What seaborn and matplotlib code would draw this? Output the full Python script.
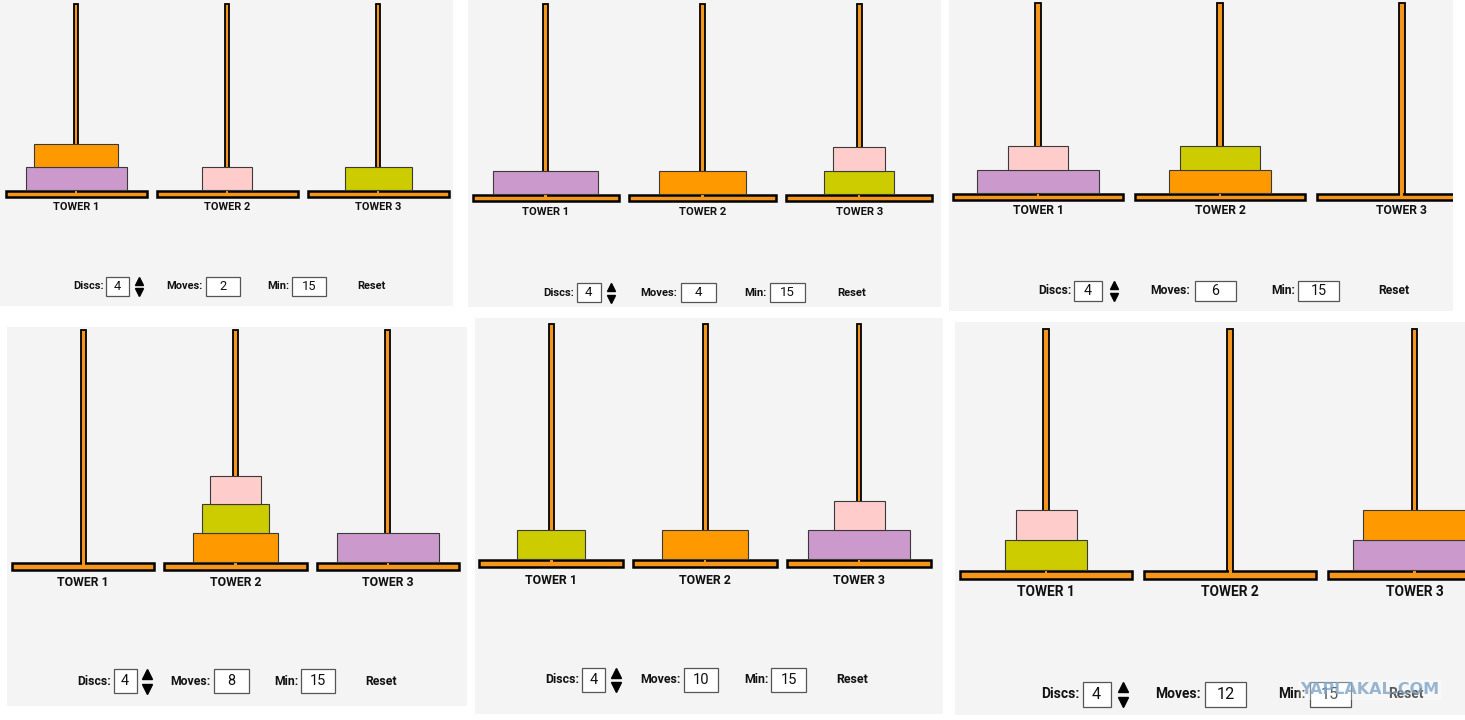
import matplotlib
matplotlib.use("Agg")
import matplotlib.pyplot as plt
from matplotlib import font_manager
import seaborn as sns

moves = [2, 4, 6, 8, 10, 12]
disc_count = 4
min_moves = 15
tower_labels = ["TOWER 1", "TOWER 2", "TOWER 3"]

disc_width = {"pink": 50, "green": 67, "orange": 84, "violet": 101}
disc_color = {"pink": "#ffcccc", "green": "#cccc00", "orange": "#ff9900", "violet": "#cc99cc"}

# discs on each tower, bottom to top
state_2 = [["violet", "orange"], ["pink"], ["green"]]
state_4 = [["violet"], ["orange"], ["green", "pink"]]
state_6 = [["violet", "pink"], ["orange", "green"], []]
state_8 = [[], ["orange", "green", "pink"], ["violet"]]
state_10 = [["green"], ["orange"], ["violet", "pink"]]
state_12 = [["green", "pink"], [], ["violet", "orange"]]
states = [state_2, state_4, state_6, state_8, state_10, state_12]

# where each screenshot sits in the collage (pixels)
panel_pole1_x = [76, 545.7, 1038, 83.3, 551.3, 1046]
panel_base_y = [190, 194.3, 193, 561.7, 558.7, 570]
panel_sx = [1.0, 1.038, 1.205, 1.008, 1.019, 1.22]
panel_sy = [1.0, 1.025, 1.02, 1.245, 1.26, 1.295]
panel_box = [(0, 0, 453, 306), (468, 0, 941, 307), (949, 0, 1453, 311),
             (7, 327, 467, 706), (475, 318, 943, 714), (955, 322, 1465, 715)]

W, H = 1465, 720
PANEL_BG = "#f4f4f4"
WOOD = "#f5961c"
POLE_GAP = 151
POLE_H = 186
DISC_H = 23

# the game uses a tall, fairly narrow bold font
try:
    font_manager.findfont("Roboto", fallback_to_default=False)
    UI_FONT = ["Roboto", "DejaVu Sans"]
    LABEL_PT, NUM_PT = 7.9, 9.3
except ValueError:
    UI_FONT = ["DejaVu Sans"]
    LABEL_PT, NUM_PT = 6.8, 8.2


def draw_panel(fig, k):
    l, t, r, b = panel_box[k]
    sx, sy = panel_sx[k], panel_sy[k]
    ax = fig.add_axes([l / W, 1 - b / H, (r - l) / W, (b - t) / H])
    ax.set_facecolor(PANEL_BG)
    ax.set_xlim((l - panel_pole1_x[k]) / sx, (r - panel_pole1_x[k]) / sx)
    ax.set_ylim((panel_base_y[k] - b) / sy, (panel_base_y[k] - t) / sy)
    ax.set_xticks([])
    ax.set_yticks([])
    sns.despine(ax=ax, left=True, bottom=True)
    fs = (sx * sy) ** 0.5

    pole_x = [i * POLE_GAP for i in range(3)]
    # bases, poles and the little joint where the pole enters the base
    ax.bar(pole_x, 5.6, width=141, bottom=-6.6, color=WOOD,
           edgecolor="black", linewidth=1.8, zorder=2)
    ax.bar(pole_x, POLE_H + 1, width=4.8, bottom=-1, color=WOOD,
           edgecolor="black", linewidth=1.3, zorder=3)
    ax.bar(pole_x, 4.5, width=2.4, bottom=-4, color=WOOD, linewidth=0, zorder=3.5)

    for x, stack in zip(pole_x, states[k]):
        for level, name in enumerate(stack):
            ax.bar(x, DISC_H, width=disc_width[name], bottom=level * DISC_H,
                   color=disc_color[name], edgecolor="#3a3a3a", linewidth=0.8, zorder=4)

    for x, label in zip(pole_x, tower_labels):
        ax.text(x, -17, label, ha="center", va="center", family=UI_FONT,
                fontsize=LABEL_PT * fs, fontweight="bold", color="#111111")

    # control strip
    y0 = -96
    txt = dict(va="center", family=UI_FONT, fontsize=LABEL_PT * fs,
               fontweight="bold", color="#111111")
    num = dict(ha="center", va="center", family=UI_FONT, fontsize=NUM_PT * fs, color="#111111")
    box = dict(bottom=y0 - 9.5, color="white", edgecolor="#555555", linewidth=0.9, zorder=2)

    ax.text(27.5, y0, "Discs:", ha="right", **txt)
    ax.bar(41.5, 19, width=23, **box)
    ax.text(41.5, y0, str(disc_count), **num)
    ax.plot([63.3], [-90.5], marker="^", ms=5.8 * fs, color="black", linestyle="none")
    ax.plot([63.3], [-102], marker="v", ms=5.8 * fs, color="black", linestyle="none")

    ax.text(126.5, y0, "Moves:", ha="right", **txt)
    ax.bar(147, 19, width=34, **box)
    ax.text(147, y0, str(moves[k]), **num)

    ax.text(213, y0, "Min:", ha="right", **txt)
    ax.bar(233, 19, width=34, **box)
    ax.text(233, y0, str(min_moves), **num)

    ax.text(295, y0, "Reset", ha="center", **txt)
    return ax


sns.set_theme(style="white")
plt.rcParams["font.family"] = ["DejaVu Sans"]

fig = plt.figure(figsize=(W / 100, H / 100), dpi=100)
fig.patch.set_facecolor("white")

for k in range(len(states)):
    draw_panel(fig, k)

# watermark of the site the collage came from
fig.text(1370 / W, 1 - 690 / H, "YAPLAKAL.COM", ha="center", va="center",
         fontsize=11.5, fontweight="bold", color="#7fa5c8", alpha=0.8,
         bbox=dict(facecolor="white", alpha=0.3, edgecolor="none", pad=2))

fig.savefig("out.png", dpi=100, facecolor="white")
